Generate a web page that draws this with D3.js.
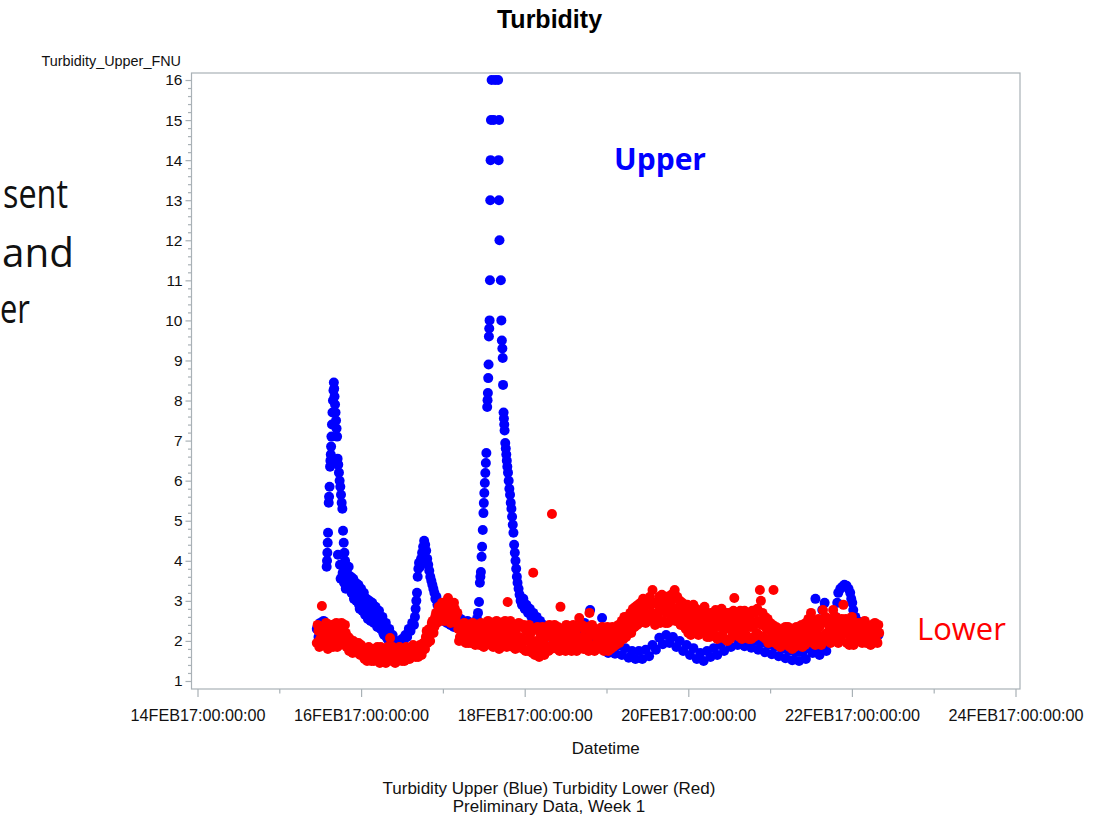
<!DOCTYPE html>
<html><head><meta charset="utf-8">
<script src="https://cdn.jsdelivr.net/npm/d3@7/dist/d3.min.js"></script>
<style>
html,body{margin:0;padding:0;background:#fff;}
svg{display:block;}
</style></head><body>
<svg id="chart" width="1097" height="818"></svg>
<script>
// ---------- text ----------
const chartTitle = "Turbidity";
const yAxisLabel = "Turbidity_Upper_FNU";
const xAxisLabel = "Datetime";
const footnotes = ["Turbidity Upper (Blue) Turbidity Lower (Red)", "Preliminary Data, Week 1"];
const slideLines = ["sent", "and", "er"];
const seriesNames = ["Upper", "Lower"];

// ---------- ticks ----------
const yTicks = [1,2,3,4,5,6,7,8,9,10,11,12,13,14,15,16];
const xTickDays = ["2017-02-14","2017-02-16","2017-02-18","2017-02-20","2017-02-22","2017-02-24"];
const xMinorDays = ["2017-02-15","2017-02-17","2017-02-19","2017-02-21","2017-02-23"];

// ---------- data: [hours since 14FEB17:00:00:00, FNU] ----------
const upperReadings = [
[35,2.3],[35.5,2.1],[36,2.45],[36.5,2.25],[37,2.5],[37.5,2.35],
[37.9,3.85],[38.0,4.0],[38.1,4.2],[38.2,4.45],[38.3,4.7],[38.5,5.45],[38.6,5.6],[38.75,5.85],[38.9,6.35],[39.0,6.5],[39.1,6.65],[39.2,6.85],[39.3,7.1],[39.45,7.4],[39.6,7.7],[39.75,8.0],[39.9,8.25],[40.0,8.45],[40.1,8.3],[40.2,8.1],[40.35,7.9],[40.5,7.7],[40.65,7.5],[40.8,7.3],[40.95,7.1],[41.1,6.55],[41.2,4.15],[41.3,6.4],[41.5,6.2],[41.7,6.0],[41.8,3.9],[41.9,5.85],[42.0,3.55],[42.1,5.65],[42.3,5.45],[42.4,3.6],[42.5,5.3],[42.6,3.7],[42.7,4.75],[42.9,4.45],[43.0,3.45],[43.1,4.2],[43.3,4.0],[43.5,3.3],[43.6,3.75],[43.9,3.55],
[44.2,3.65],[44.5,3.3],[44.8,3.5],[45.2,3.2],[45.5,3.4],[45.9,3.05],[46.2,3.3],[46.6,3.0],[47.0,3.25],[47.4,2.9],[47.8,3.15],[48.2,2.85],[48.6,3.05],[49.0,2.75],[49.4,2.95],[49.8,2.7],[50.2,2.9],[50.6,2.6],[51.0,2.8],[51.5,2.55],[52.0,2.7],[52.5,2.45],[53.0,2.6],[53.5,2.35],[54.0,2.45],[54.5,2.2],[55.0,2.3],[55.5,2.1],[56.0,2.15],[56.5,1.95],[57.0,2.05],[57.5,1.85],[58.0,1.95],[58.5,1.85],[59.0,2.0],[59.5,1.9],[60.0,2.05],[60.5,2.0],[61.0,2.15],[61.5,2.1],[62.0,2.3],[62.5,2.25],[63.0,2.45],[63.5,2.4],
[63.8,2.6],[64.0,2.8],[64.2,3.0],[64.4,3.2],[64.6,3.6],[64.8,3.8],[65.0,3.95],[65.3,3.85],[65.6,4.05],[65.9,4.2],[66.2,4.35],[66.5,4.5],[66.8,4.4],[67.1,4.25],[67.4,4.05],[67.7,3.9],[68.0,3.75],[68.3,3.6],[68.6,3.5],[68.9,3.4],[69.2,3.3],[69.5,3.2],[69.8,3.05],[70.1,3.1],[70.4,2.9],[70.8,2.8],[71.2,2.7],[71.7,2.6],[72.2,2.5],[72.7,2.55],
[73.2,2.45],[73.7,2.6],[74.2,2.4],[74.7,2.55],[75.2,2.35],[75.7,2.5],[76.2,2.65],[76.7,2.4],[77.2,2.55],[77.7,2.3],[78.2,2.45],[78.7,2.35],[79.2,2.5],[79.7,2.3],[80.2,2.4],[80.7,2.25],[81.2,2.45],[81.7,2.35],
[82.0,2.55],[82.3,2.7],[82.6,2.97],[82.85,3.45],[83.0,3.6],[83.15,3.72],[83.35,4.1],[83.5,4.35],[83.7,4.77],[83.9,5.19],[84.0,5.44],[84.15,5.69],[84.3,5.94],[84.45,6.19],[84.6,6.44],[84.75,6.69],[85.0,7.84],[85.1,8.01],[85.2,8.19],[85.3,8.56],[85.4,8.9],[85.5,9.6],[85.6,9.8],[85.7,10],[85.8,11],[85.9,13],[86.0,14],[86.1,15],[86.3,16],[86.9,15],[87.3,16],[88.2,16],[88.35,14],[88.45,13],[88.5,15],[88.6,12],[89.0,11],[89.15,10],[89.3,9.5],[89.45,9.3],[89.55,9.06],[89.65,8.39],
[89.8,7.7],[89.9,7.55],[90.0,7.4],[90.1,7.25],[90.3,6.94],[90.45,6.8],[90.6,6.65],[90.75,6.5],[90.9,6.35],[91.1,6.2],[91.3,6.0],[91.5,5.8],[91.7,5.65],[91.9,5.45],[92.1,5.3],[92.3,5.1],[92.5,4.9],[92.7,4.7],[92.9,4.4],[93.1,4.2],[93.3,4.0],[93.5,3.8],[93.7,3.6],[93.9,3.45],[94.2,3.3],[94.5,3.15],[94.8,3.0],[95.2,2.9],[95.6,3.05],[96.0,2.8],[96.5,2.9],[97.0,2.7],[97.5,2.8],[98.0,2.6],[98.5,2.7],[99.0,2.5],[99.5,2.6],[100.0,2.45],[100.5,2.5],[101.0,2.35],[101.5,2.4],[102.0,2.3],[102.5,2.25],[103.0,2.2],
[103.5,2.1],[104.5,1.95],[105.5,2.05],[106.5,1.9],[107.5,2.0],[108.5,1.85],[109.5,2.0],[110.5,1.9],[111.5,2.05],[112.5,2.2],[113.5,2.45],[114.5,2.3],[115.2,2.77],[116.0,2.2],[117.0,2.0],[118.0,1.9],[118.7,2.57],[119.5,1.85],
[120.5,1.7],[121.5,1.9],[122.5,1.68],[123.5,1.88],[124.5,1.65],[125.5,1.82],[126.5,1.58],[127.5,1.75],[128.5,1.55],[129.5,1.75],[130.5,1.55],[131.5,1.78],[132.5,1.62],[133.5,1.9],[134.5,1.78],[135.5,2.08],[136.5,1.92],[137.5,2.15],[138.5,1.95],[139.5,2.1],[140.5,1.85],[141.5,2.0],[142.5,1.75],[143.5,1.9],[144.5,1.65],[145.5,1.82],[146.5,1.55],[147.5,1.7],[148.5,1.5],[149.5,1.75],[150.5,1.6],[151.5,1.82],[152.5,1.65],[153.5,1.9],[154.5,1.75],[155.5,2.0],[156.5,1.85],[157.5,2.1],[158.5,1.9],[159.5,2.08],[160.5,1.87],[161.5,2.05],[162.5,1.83],[163.5,2.0],[164.5,1.78],[165.5,1.95],[166.5,1.72],[167.5,1.9],[168.5,1.67],[169.5,1.85],[170.5,1.62],[171.5,1.8],[172.5,1.57],[173.5,1.75],[174.5,1.52],[175.5,1.72],[176.5,1.5],[177.5,1.72],[178.5,1.55],[179.5,1.8],
[180.5,1.7],[181.3,3.05],[181.5,1.8],[182.5,1.65],[183.3,2.77],[183.5,1.85],[184.0,2.95],[184.5,1.75],[185.5,2.0],[186.5,2.2],[187.2,2.6],[187.7,2.95],[188.0,3.2],[188.6,3.3],[189.2,3.35],[189.8,3.4],[190.4,3.38],[191.0,3.3],[191.5,3.2],[191.8,3.05],[192.1,2.95],[192.4,2.77],[193.0,2.6],[193.6,2.5],[194.2,2.35],[195.0,2.25],[195.8,2.35],[196.6,2.15],[197.4,2.3],[198.2,2.1],[199.0,2.25],[199.8,2.15],
[44.35,3.85],[45.0,3.6],[45.7,3.55],[46.4,3.45],[47.2,3.4],[47.6,2.8],[48.0,3.3],[48.4,2.75],[48.8,3.2],[49.2,2.65],[49.6,3.05],[50.0,2.55],[50.4,3.0],[50.8,2.5],[51.25,2.95],[51.75,2.45],[52.25,2.85],[52.75,2.35],[53.25,2.75],[53.75,2.3],[54.25,2.6],[54.75,2.15],[55.25,2.45],[55.75,2.05],[56.25,2.3],[56.75,1.9],[57.25,2.15],[57.75,1.8]
];

const lowerReadings = [
[35.0,1.95],[35.5,2.25],[36.0,2.05],[36.5,2.87],[37.0,2.3],[37.5,1.9],[38.0,2.2],[38.5,2.35],[39.0,1.95],[39.5,2.15],[40.0,2.4],[40.5,2.05],[41.0,1.85],[41.5,2.3],[42.0,2.1],[42.5,2.35],[43.0,1.95],[43.5,2.2],[44.0,1.9],
[44.5,1.75],[45.0,1.95],[45.5,1.7],[46.0,1.85],[46.5,1.95],[47.0,1.7],[47.5,1.8],[48.0,1.9],
[48.5,1.7],[49.0,1.55],[49.5,1.75],[50.0,1.6],[50.5,1.7],[51.0,1.5],[51.5,1.65],[52.0,1.75],[52.5,1.55],[53.0,1.6],[53.5,1.45],[54.0,1.7],[54.5,1.55],[55.0,1.6],[55.5,1.5],[56.0,1.65],[56.5,2.07],[57.0,1.5],[57.5,1.6],[58.0,1.45],[58.5,1.65],[59.0,1.55],[59.5,1.7],[60.0,1.5],[60.5,1.6],[61.0,1.65],[61.5,1.55],[62.0,1.7],
[62.5,1.8],[63.0,1.65],[63.5,1.75],[64.0,1.6],[64.5,1.8],[65.0,1.7],[65.5,1.85],[66.0,1.75],
[66.5,1.9],[67.0,2.1],[67.5,1.95],[68.0,2.3],[68.5,2.2],[69.0,2.5],[69.5,2.35],[70.0,2.7],[70.5,2.55],[71.0,2.75],
[71.5,2.6],[72.0,2.85],[72.5,2.5],[73.0,2.75],[73.5,3.07],[74.0,2.6],[74.5,2.9],[75.0,2.55],[75.5,2.8],[76.0,2.45],
[76.5,2.3],[77.0,2.1],[77.5,2.4],[78.0,2.0],[78.5,2.25],[79.0,2.15],[79.5,1.95],[80.0,2.35],[80.5,2.1],[81.0,2.25],[81.5,1.9],[82.0,2.2],
[82.5,2.35],[83.0,2.0],[83.5,2.2],[84.0,1.85],[84.5,2.4],[85.0,2.1],[85.5,2.3],[86.0,1.9],[86.5,2.15],[87.0,2.45],[87.5,2.0],[88.0,2.25],[88.5,1.8],[89.0,2.1],[89.5,2.35],[90.0,1.95],[90.5,2.2],[91.0,2.97],[91.5,2.05],[92.0,2.4],[92.5,1.85],[93.0,2.15],[93.5,2.3],[94.0,1.9],[94.5,2.1],[95.0,2.35],[95.5,1.8],[96.0,2.0],[96.5,2.25],[97.0,1.75],[97.5,2.1],[98.0,1.9],[98.5,3.7],[99.0,1.65],[99.5,2.0],[100.0,1.8],[100.5,2.2],[101.0,1.7],[101.5,2.05],[102.0,1.9],[102.5,2.3],[103.0,1.75],[103.5,2.1],[104.0,5.17],
[104.5,1.95],[105.0,2.25],[105.5,1.8],[106.0,2.1],[106.5,2.85],[107.0,2.0],[107.5,2.3],[108.0,1.75],[108.5,2.15],[109.0,1.9],[109.5,2.35],[110.0,2.0],[110.5,1.8],[111.0,2.2],[111.5,1.95],[112.0,2.57],[112.5,1.85],[113.0,2.1],[113.5,2.3],[114.0,1.8],[114.5,2.05],[115.0,2.7],[115.5,1.9],[116.0,2.25],[116.5,1.75],[117.0,2.1],[117.5,1.95],[118.0,2.3],[118.5,1.8],[119.0,2.05],[119.5,1.9],[120.0,2.2],[120.5,1.75],[121.0,2.0],[121.5,2.15],[122.0,1.85],
[122.5,2.3],[123.0,1.95],[123.5,2.4],[124.0,2.1],[124.5,2.5],[125.0,2.05],[125.5,2.35],[126.0,2.6],[126.5,2.2],[127.0,2.7],[127.5,2.3],[128.0,2.55],[128.5,2.85],[129.0,2.4],[129.5,2.7],[130.0,2.95],[130.5,2.5],[131.0,2.8],[131.5,2.45],[132.0,3.0],[132.5,2.65],[133.0,2.9],[133.5,3.27],[134.0,2.55],
[134.5,2.95],[135.0,2.6],[135.5,3.1],[136.0,2.75],[136.5,2.5],[137.0,3.0],[137.5,2.7],[138.0,2.45],[138.5,2.9],[139.0,3.15],[139.5,2.6],[140.0,3.27],[140.5,2.8],[141.0,2.5],[141.5,3.0],[142.0,2.65],
[142.5,2.4],[143.0,2.85],[143.5,2.55],[144.0,2.2],[144.5,2.7],[145.0,2.45],[145.5,2.9],[146.0,2.3],[146.5,2.6],[147.0,2.15],[147.5,2.5],[148.0,2.75],[148.5,2.3],[149.0,2.55],[149.5,2.1],[150.0,2.4],
[150.5,2.7],[151.0,2.25],[151.5,2.5],[152.0,2.77],[152.5,2.05],[153.0,2.35],[153.5,2.6],[154.0,2.15],[154.5,2.45],[155.0,2.7],[155.5,2.0],[156.0,2.3],[156.5,2.55],[157.0,2.2],[157.5,3.07],[158.0,2.4],[158.5,2.65],[159.0,2.1],[159.5,2.5],[160.0,2.3],
[160.5,2.75],[161.0,2.15],[161.5,2.45],[162.0,2.6],[162.5,2.05],[163.0,2.35],[163.5,2.7],[164.0,2.2],[164.5,2.5],[165.0,3.27],[165.3,3.0],[165.5,2.4],[166.0,2.1],[166.5,2.6],[167.0,2.3],[167.5,1.95],[168.0,2.45],
[168.5,2.2],[169.0,3.27],[169.5,1.95],[170.0,2.3],[170.5,2.05],[171.0,1.85],[171.5,2.2],[172.0,2.0],[172.5,2.35],[173.0,1.9],[173.5,2.15],[174.0,2.0],[174.5,1.8],[175.0,2.25],[175.5,2.05],[176.0,1.9],[176.5,2.3],[177.0,2.1],[177.5,1.85],[178.0,2.2],
[178.5,2.45],[179.0,2.0],[179.5,2.3],[180.0,2.7],[180.5,1.95],[181.0,2.2],[181.5,2.5],[182.0,2.05],[182.5,2.35],[183.0,1.9],[183.5,2.77],[184.0,2.15],[184.5,2.45],[185.0,2.0],[185.5,2.3],[186.0,2.55],[186.5,2.77],[187.0,2.1],[187.5,2.4],[188.0,1.95],
[188.5,2.3],[189.0,2.55],[189.5,2.9],[190.0,2.2],[190.5,1.95],[191.0,2.4],[191.5,2.1],[192.0,2.6],[192.5,1.9],[193.0,2.25],[193.5,2.45],[194.0,2.0],[194.5,2.3],[195.0,1.95],[195.5,2.15],[196.0,2.4],[196.5,2.05],[197.0,2.25],[197.5,1.9],[198.0,2.35],[198.5,2.1],[199.0,2.3],[199.5,1.95],[200.0,2.2],
[35.25,2.4],[35.75,1.85],[36.25,2.35],[36.75,2.0],[37.25,2.15],[37.75,2.45],[38.25,1.8],[38.75,2.1],[39.25,2.4],[39.75,1.85],[40.25,2.2],[40.75,2.45],[41.25,2.1],[41.75,1.9],[42.25,2.45],[42.75,2.05],[43.25,2.4],[43.75,1.85],[44.25,2.1],
[44.75,2.05],[45.25,1.8],[45.75,2.0],[46.25,1.75],[46.75,1.8],[47.25,1.95],[47.75,1.65],[48.25,1.75],
[48.75,1.8],[49.25,1.7],[49.75,1.5],[50.25,1.85],[50.75,1.55],[51.25,1.8],[51.75,1.5],[52.25,1.6],[52.75,1.85],[53.25,1.7],[53.75,1.85],[54.25,1.5],[54.75,1.8],[55.25,1.45],[55.75,1.85],[56.25,1.55],[56.75,1.75],[57.25,1.85],[57.75,1.55],[58.25,1.8],[58.75,1.5],[59.25,1.85],[59.75,1.6],[60.25,1.8],[60.75,1.5],[61.25,1.85],[61.75,1.7],[62.25,1.55],
[62.75,1.6],[63.25,1.9],[63.75,1.65],[64.25,1.85],[64.75,1.6],[65.25,1.9],[65.75,1.65],[66.25,1.95],
[66.75,1.8],[67.25,2.25],[67.75,2.15],[68.25,2.0],[68.75,2.45],[69.25,2.2],[69.75,2.6],[70.25,2.45],[70.75,2.85],[71.25,2.5],
[71.75,2.95],[72.25,2.65],[72.75,2.95],[73.25,2.55],[73.75,2.8],[74.25,2.45],[74.75,2.7],[75.25,2.95],[75.75,2.6],[76.25,2.7],
[76.75,2.0],[77.25,2.35],[77.75,2.2],[78.25,2.45],[78.75,1.95],[79.25,2.4],[79.75,2.25],[80.25,1.95],[80.75,2.45],[81.25,2.0],[81.75,2.35],[82.25,1.95],
[82.75,1.9],[83.25,2.45],[83.75,2.05],[84.25,2.25],[84.75,1.95],[85.25,2.5],[85.75,2.05],[86.25,2.4],[86.75,1.85],[87.25,2.2],[87.75,2.5],[88.25,1.9],[88.75,2.45],[89.25,1.85],[89.75,2.1],[90.25,2.5],[90.75,1.85],[91.25,2.3],[91.75,2.5],[92.25,2.0],[92.75,2.35],[93.25,1.8],[93.75,2.05],[94.25,2.45],[94.75,1.85],[95.25,2.05],[95.75,2.4],[96.25,1.75],[96.75,2.0],[97.25,2.4],[97.75,2.2],[98.25,1.7],[98.75,2.3],[99.25,1.95],[99.75,2.35],[100.25,1.6],[100.75,1.9],[101.25,2.35],[101.75,1.65],[102.25,2.1],[102.75,1.85],[103.25,2.4],[103.75,1.8],[104.25,2.25],
[104.75,2.4],[105.25,1.95],[105.75,2.35],[106.25,1.75],[106.75,2.2],[107.25,1.8],[107.75,2.05],[108.25,2.4],[108.75,1.8],[109.25,2.15],[109.75,1.75],[110.25,2.4],[110.75,2.1],[111.25,1.75],[111.75,2.35],[112.25,2.05],[112.75,2.4],[113.25,1.8],[113.75,2.0],[114.25,2.35],[114.75,1.75],[115.25,2.2],[115.75,2.4],[116.25,1.85],[116.75,2.3],[117.25,1.8],[117.75,2.15],[118.25,1.95],[118.75,2.35],[119.25,1.75],[119.75,2.0],[120.25,2.35],[120.75,2.1],[121.25,1.8],[121.75,2.35],
[122.25,2.1],[122.75,1.9],[123.25,2.2],[123.75,1.95],[124.25,2.35],[124.75,2.2],[125.25,2.6],[125.75,2.1],[126.25,2.4],[126.75,2.5],[127.25,2.2],[127.75,2.8],[128.25,2.35],[128.75,2.6],[129.25,2.9],[129.75,2.45],[130.25,2.7],[130.75,3.05],[131.25,2.6],[131.75,2.9],[132.25,2.5],[132.75,3.1],[133.25,2.7],[133.75,2.95],
[134.25,2.4],[134.75,2.7],[135.25,2.9],[135.75,2.45],[136.25,3.15],[136.75,2.85],[137.25,2.45],[137.75,3.1],[138.25,2.7],[138.75,2.5],[139.25,2.85],[139.75,3.05],[140.25,2.5],[140.75,3.1],[141.25,2.75],[141.75,2.4],
[142.25,2.95],[142.75,2.65],[143.25,2.3],[143.75,2.9],[144.25,2.5],[144.75,2.15],[145.25,2.65],[145.75,2.35],[146.25,2.8],[146.75,2.4],[147.25,2.75],[147.75,2.25],[148.25,2.55],[148.75,2.85],[149.25,2.3],[149.75,2.65],
[150.25,2.1],[150.75,2.45],[151.25,2.7],[151.75,2.15],[152.25,2.45],[152.75,2.6],[153.25,2.1],[153.75,2.8],[154.25,2.35],[154.75,2.05],[155.25,2.5],[155.75,2.7],[156.25,2.05],[156.75,2.35],[157.25,2.75],[157.75,2.15],[158.25,2.55],[158.75,2.25],[159.25,2.75],[159.75,2.05],
[160.25,2.55],[160.75,2.35],[161.25,2.7],[161.75,2.05],[162.25,2.35],[162.75,2.75],[163.25,2.1],[163.75,2.45],[164.25,2.8],[164.75,2.15],[165.75,2.7],[166.25,2.45],[166.75,2.05],[167.25,2.55],[167.75,2.3],[168.25,2.0],
[168.75,2.4],[169.25,2.1],[169.75,2.35],[170.25,1.9],[170.75,2.3],[171.25,2.1],[171.75,1.9],[172.25,2.25],[172.75,2.05],[173.25,2.35],[173.75,1.85],[174.25,2.3],[174.75,2.1],[175.25,1.85],[175.75,2.35],[176.25,2.15],[176.75,1.95],[177.25,2.4],[177.75,2.05],[178.25,1.9],
[178.75,2.2],[179.25,2.55],[179.75,2.1],[180.25,2.4],[180.75,2.5],[181.25,1.9],[181.75,2.25],[182.25,2.55],[182.75,2.1],[183.25,2.45],[183.75,2.0],[184.25,2.6],[184.75,2.2],[185.25,2.55],[185.75,1.95],[186.25,2.25],[186.75,2.45],[187.25,2.6],[187.75,2.15],[188.25,2.5],
[188.75,2.05],[189.25,2.25],[189.75,2.4],[190.25,2.55],[190.75,2.2],[191.25,1.9],[191.75,2.35],[192.25,2.15],[192.75,2.4],[193.25,2.0],[193.75,2.2],[194.25,2.45],[194.75,2.05],[195.25,2.35],[195.75,2.5],[196.25,1.95],[196.75,2.35],[197.25,2.05],[197.75,2.4],[198.25,1.95],[198.75,2.45],[199.25,2.0],[199.75,2.4]
];

// ---------- drawing ----------
const W = 1097, H = 818;
const svg = d3.select("#chart");
const sasFont = "'Liberation Sans', Arial, Helvetica, sans-serif";
const slideFont = "'Open Sans', 'Noto Sans', sans-serif";
const frameColor = "#a9b1b6";

const origin = Date.UTC(2017, 1, 14);
const hourToDate = h => new Date(origin + h * 3600e3);
const parseDay = d3.utcParse("%Y-%m-%d");
const fmt = d => d3.utcFormat("%d%b%y:%H:%M:%S")(d).toUpperCase();

const plot = {left: 191.5, right: 1020, top: 73, bottom: 689};

const x = d3.scaleUtc()
  .domain([hourToDate(-1.76), new Date(parseDay("2017-02-24").getTime() + 1.32 * 3600e3)])
  .range([plot.left, plot.right]);
const y = d3.scaleLinear().domain([0.8, 16.175]).range([plot.bottom, plot.top]);

svg.append("rect").attr("width", W).attr("height", H).attr("fill", "#fff");

// slide text fragments behind the chart
const slideBaselines = [208, 267, 323];
const slideStart = [3, 2, 0];
const slideLengths = [65, 72, 30];
svg.append("g").selectAll("text").data(slideLines).join("text")
  .attr("x", (d, i) => slideStart[i]).attr("y", (d, i) => slideBaselines[i])
  .attr("textLength", (d, i) => slideLengths[i]).attr("lengthAdjust", "spacingAndGlyphs")
  .style("font-family", slideFont).style("font-size", "40px").attr("fill", "#111")
  .text(d => d);

// frame
svg.append("rect")
  .attr("x", plot.left).attr("y", plot.top)
  .attr("width", plot.right - plot.left).attr("height", plot.bottom - plot.top)
  .attr("fill", "#fff").attr("stroke", frameColor).attr("stroke-width", 1.2);

// y axis
const yMinor = d3.range(1, 16.001, 0.2).filter(v => Math.abs(v - Math.round(v)) > 1e-6);
const yAxisMinor = svg.append("g").attr("transform", `translate(${plot.left},0)`)
  .call(d3.axisLeft(y).tickValues(yMinor).tickSize(3.5).tickFormat(""));
const yAxisG = svg.append("g").attr("transform", `translate(${plot.left},0)`)
  .call(d3.axisLeft(y).tickValues(yTicks).tickSize(6).tickPadding(3).tickFormat(d3.format("d")));

// x axis
const xMajor = xTickDays.map(parseDay), xMin = xMinorDays.map(parseDay);
const xAxisMinor = svg.append("g").attr("transform", `translate(0,${plot.bottom})`)
  .call(d3.axisBottom(x).tickValues(xMin).tickSize(4.5).tickFormat(""));
const xAxisG = svg.append("g").attr("transform", `translate(0,${plot.bottom})`)
  .call(d3.axisBottom(x).tickValues(xMajor).tickSize(8).tickPadding(12).tickFormat(fmt));

[yAxisMinor, yAxisG, xAxisMinor, xAxisG].forEach(g => {
  g.select(".domain").remove();
  g.selectAll(".tick line").attr("stroke", frameColor).attr("stroke-width", 1.2);
  g.selectAll(".tick text").style("font-family", sasFont).attr("fill", "#111");
});
yAxisG.selectAll(".tick text").style("font-size", "15.5px");
xAxisG.selectAll(".tick text").style("font-size", "16.2px");

// points
const upperColor = "#0000ff", lowerColor = "#ff0000";
svg.append("g").selectAll("circle").data(upperReadings).join("circle")
  .attr("cx", d => x(hourToDate(d[0]))).attr("cy", d => y(d[1])).attr("r", 5).attr("fill", upperColor);
svg.append("g").selectAll("circle").data(lowerReadings).join("circle")
  .attr("cx", d => x(hourToDate(d[0]))).attr("cy", d => y(d[1])).attr("r", 5).attr("fill", lowerColor);

// titles & labels
svg.append("text").attr("x", 549.5).attr("y", 28).attr("text-anchor", "middle")
  .style("font-family", sasFont).style("font-size", "25px").style("font-weight", "bold").attr("fill", "#000")
  .text(chartTitle);
svg.append("text").attr("x", 181).attr("y", 66).attr("text-anchor", "end")
  .style("font-family", sasFont).style("font-size", "14.4px").attr("fill", "#111").text(yAxisLabel);
svg.append("text").attr("x", (plot.left + plot.right) / 2).attr("y", 754).attr("text-anchor", "middle")
  .style("font-family", sasFont).style("font-size", "17px").attr("fill", "#111").text(xAxisLabel);
svg.append("g").selectAll("text").data(footnotes).join("text")
  .attr("x", 549).attr("y", (d, i) => 794 + i * 18).attr("text-anchor", "middle")
  .style("font-family", sasFont).style("font-size", "17px").attr("fill", "#111").text(d => d);

// series annotations (slide text)
svg.append("text").attr("x", 614).attr("y", 170)
  .style("font-family", slideFont).style("font-size", "30px").style("font-weight", "bold")
  .attr("fill", upperColor).text(seriesNames[0]);
svg.append("text").attr("x", 917).attr("y", 640)
  .style("font-family", slideFont).style("font-size", "31px")
  .attr("fill", lowerColor).text(seriesNames[1]);
</script>
</body></html>
